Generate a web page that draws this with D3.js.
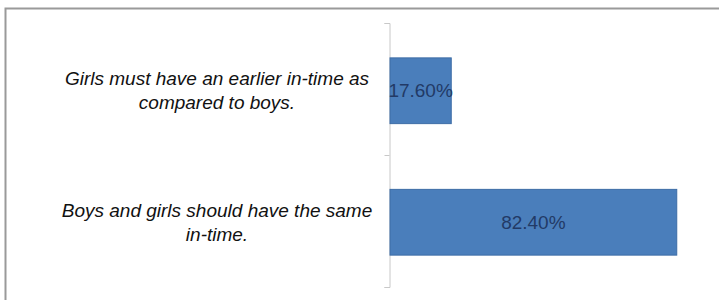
<!DOCTYPE html>
<meta charset="utf-8">
<style>
  body { margin: 0; background: #fff; }
  .label text { font: italic 19px "Liberation Sans", Arial, sans-serif; fill: #111; }
  .value { font: 19px "Liberation Sans", Arial, sans-serif; fill: #223a66; text-anchor: middle; }
</style>
<svg width="719" height="300"></svg>
<script src="https://d3js.org/d3.v7.min.js"></script>
<script>
  var categories = [
    ["Girls must have an earlier in-time as", "compared to boys."],
    ["Boys and girls should have the same", "in-time."]
  ];
  var values = [17.6, 82.4];
  var valueLabels = ["17.60%", "82.40%"];

  var svg = d3.select("svg");

  // outer frame (cropped at right and bottom)
  svg.append("path")
    .attr("d", "M5.5,300 V8.5 H719")
    .attr("fill", "none")
    .attr("stroke", "#9a9a9a")
    .attr("stroke-width", 2);

  var x = d3.scaleLinear().domain([0, 100]).range([390, 738]);
  var y = d3.scaleBand().domain([0, 1]).range([25, 288]).paddingInner(0.5).paddingOuter(0.25);

  // axis
  var axisY = d3.scaleLinear().domain([0, 2]).range([23, 287]);
  var axis = svg.append("g")
    .attr("transform", "translate(389.5,0)")
    .call(d3.axisLeft(axisY).ticks(2).tickSize(5).tickFormat(""));
  axis.selectAll("line, path").attr("stroke", "#c8c8c8");

  svg.selectAll(".bar")
    .data(values)
    .enter().append("rect")
    .attr("class", "bar")
    .attr("x", x(0))
    .attr("y", function(d, i) { return y(i); })
    .attr("width", function(d) { return x(d) - x(0); })
    .attr("height", y.bandwidth())
    .attr("fill", "#4a7ebb")
    .attr("stroke", "#3d6da6")
    .attr("stroke-width", 1);

  svg.selectAll(".value")
    .data(values)
    .enter().append("text")
    .attr("class", "value")
    .attr("x", function(d) { return (x(0) + x(d)) / 2; })
    .attr("y", function(d, i) { return y(i) + y.bandwidth() / 2; })
    .attr("dy", "0.35em")
    .text(function(d, i) { return valueLabels[i]; });

  var label = svg.selectAll(".label")
    .data(categories)
    .enter().append("g")
    .attr("class", "label")
    .attr("transform", function(d, i) {
      return "translate(217," + (y(i) + y.bandwidth() / 2) + ")";
    });

  label.selectAll("text")
    .data(function(d) { return d; })
    .enter().append("text")
    .attr("text-anchor", "middle")
    .attr("y", function(d, j, nodes) { return (j - (nodes.length - 1) / 2) * 24; })
    .attr("dy", "0.35em")
    .text(function(d) { return d; });
</script>
